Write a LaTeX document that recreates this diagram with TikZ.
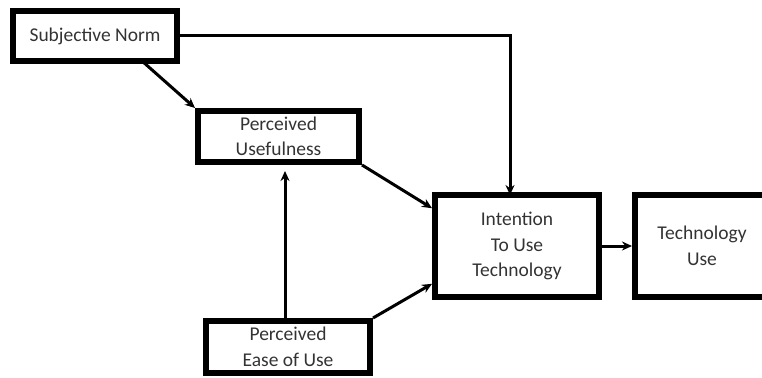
\documentclass[tikz,border=0pt]{standalone}
\usepackage{fontspec}
\setmainfont{Carlito}
\usetikzlibrary{arrows.meta,calc}
\begin{document}
\begin{tikzpicture}[x=1pt,y=-1pt,
  box/.style={draw=black,line width=6pt,rectangle,align=center,inner sep=0pt,
    font=\fontsize{19.5}{25.5}\selectfont,text=black!80},
  arr/.style={draw=black,line width=3pt,-{Stealth[length=10pt,width=9pt]}}]
\useasboundingbox (0,0) rectangle (762,377);
\node[box,minimum width=164pt,minimum height=50pt] (SN) at (95,36) {Subjective Norm};
\node[box,minimum width=161pt,minimum height=51pt] (PU) at (278.5,136.5) {Perceived\\Usefulness};
\node[box,minimum width=164pt,minimum height=52pt] (EU) at (288,347) {Perceived\\Ease of Use};
\node[box,minimum width=164pt,minimum height=102pt] (IT) at (517,246) {Intention\\To Use\\Technology};
\node[box,minimum width=134pt,minimum height=102pt] (TU) at (702,246) {Technology\\Use};
\coordinate (SNb) at (142,61);
\coordinate (ITn) at (510,195);
\coordinate (EUn) at (285,321);
\coordinate (PUs) at (285,162);
\draw[arr] (SN.east) -| (ITn);
\draw[arr] (SNb) -- (PU.north west);
\draw[arr] (PU.south east) -- ($(IT.north west)!0.15!(IT.south west)$);
\draw[arr,shorten >=9pt] (EUn) -- (PUs);
\draw[arr] (EU.north east) -- ($(IT.north west)!0.85!(IT.south west)$);
\draw[arr] (IT.east) -- (TU.west);
\end{tikzpicture}
\end{document}
